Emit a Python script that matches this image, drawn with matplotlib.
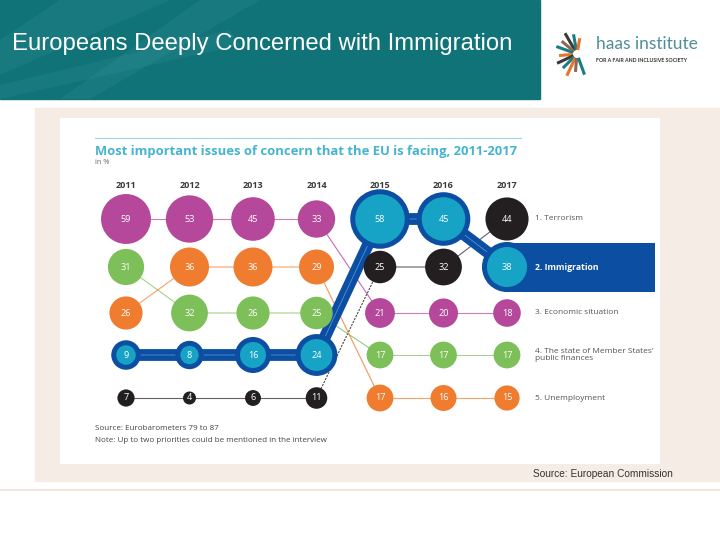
import numpy as np
import matplotlib.pyplot as plt
from matplotlib.patches import Rectangle, Polygon

years = ['2011', '2012', '2013', '2014', '2015', '2016', '2017']
issues = ['1. Terrorism', '2. Immigration', '3. Economic situation',
          "4. The state of Member States'\npublic finances", '5. Unemployment']
terrorism = [7, 4, 6, 11, 25, 32, 44]
immigration = [9, 8, 16, 24, 58, 45, 38]
economic = [59, 53, 45, 33, 21, 20, 18]
public_finances = [31, 32, 26, 25, 17, 17, 17]
unemployment = [26, 36, 36, 29, 17, 16, 15]

values = np.array([terrorism, immigration, economic, public_finances, unemployment])
colors = ['#231f20', '#17a3c6', '#b5489a', '#7dbf58', '#f07c30']
band_color = '#0b4ea2'

# rank of each issue in each year (1 = most mentioned)
ranks = np.zeros_like(values)
for j in range(values.shape[1]):
    order = np.argsort(-values[:, j], kind='stable')
    ranks[order, j] = np.arange(1, len(order) + 1)

# vertical position of each rank row (layout, in pixels from the top)
row_y = np.array([219, 267, 313, 355, 398])
rank_pos = row_y[ranks - 1]

plt.rcParams['font.family'] = ['Open Sans', 'DejaVu Sans']
fig = plt.figure(figsize=(7.2, 5.4), dpi=100)

# slide decoration, in pixel units
bg = fig.add_axes([0, 0, 1, 1])
bg.set_xlim(0, 720)
bg.set_ylim(540, 0)
bg.axis('off')
bg.add_patch(Rectangle((0, 0), 540, 99, color='#0f7378', zorder=0))
for pts in [[(60, 0), (170, 0), (0, 75), (0, 40)],
            [(0, 85), (230, 30), (240, 45), (0, 99)],
            [(200, 0), (260, 0), (90, 99), (60, 99)]]:
    bg.add_patch(Polygon(pts, color='#2f8d91', alpha=0.3, lw=0, zorder=0.5))
bg.text(12, 44, 'Europeans Deeply Concerned with Immigration', color='white',
        fontsize=17.2, family='Liberation Sans', va='center', ha='left')

# logo
cx, cy = 577, 54
for ang, ln, col in [(120, 24, '#3a3a3a'), (140, 20, '#8a6a55'), (160, 22, '#1b7d84'),
                     (185, 18, '#e8732c'), (205, 22, '#3a3a3a'), (225, 20, '#1b7d84'),
                     (245, 24, '#e8732c'), (265, 18, '#8a6a55'), (290, 22, '#1b7d84'),
                     (100, 20, '#1b7d84'), (80, 16, '#e8732c')]:
    a = np.deg2rad(ang)
    bg.plot([cx + 4 * np.cos(a), cx + ln * np.cos(a)],
            [cy - 4 * np.sin(a), cy - ln * np.sin(a)], color=col, lw=2.2,
            solid_capstyle='butt')
bg.text(596, 52, 'haas institute', color='#4f8f99', fontsize=12.5, va='bottom',
        ha='left', family='Lato')
bg.text(596, 61, 'FOR A FAIR AND INCLUSIVE SOCIETY', color='#333333', fontsize=3.8,
        va='center', ha='left', weight='bold', family='Lato')

bg.add_patch(Rectangle((35, 108), 685, 373, color='#f6ece6', zorder=0))
bg.plot([0, 720], [490, 490], color='#f1e2da', lw=1.2)
bg.text(533, 474, 'Source: European Commission', fontsize=7.3, color='#333333',
        family='Liberation Sans', va='center', ha='left')

# chart panel: x in year index, y in pixels from the top of the slide
ax = fig.add_axes([60 / 720, 1 - 464 / 540, 600 / 720, 346 / 540])
ax.set_facecolor('white')
ax.set_xlim((60 - 126) / 63.5, (660 - 126) / 63.5)
ax.set_ylim(464, 118)
ax.set_xticks([])
ax.set_yticks([])
for s in ax.spines.values():
    s.set_visible(False)

left = (95 - 126) / 63.5
ax.plot([left, (521 - 126) / 63.5], [138, 138], color='#9fd6e4', lw=0.8)
ax.text(left, 151, 'Most important issues of concern that the EU is facing, 2011-2017',
        color='#45b4cf', weight='bold', fontsize=9.4, va='center', ha='left')
ax.text(left, 162, 'in %', color='#666666', fontsize=5.3, va='center', ha='left')

x = np.arange(len(years))
for j, yr in enumerate(years):
    ax.text(j, 186, yr, color='#3a3a3a', weight='bold', fontsize=6.5,
            ha='center', va='center')

r_px = 3.25 * np.sqrt(values)
sizes = (1.44 * r_px) ** 2

imm = 1
for i in range(len(issues)):
    if i == imm:
        continue
    ax.plot(x[:4], rank_pos[i, :4], color=colors[i], lw=0.8, alpha=0.7, zorder=1)
    ax.plot(x[4:], rank_pos[i, 4:], color=colors[i], lw=0.8, alpha=0.7, zorder=1)
    ax.plot(x[3:5], rank_pos[i, 3:5], color=colors[i], lw=0.8, alpha=0.8, zorder=1,
            ls=(0, (2, 1)) if i == 0 else '-')

# immigration band
ax.plot(x, rank_pos[imm], color=band_color, lw=8.5, solid_joinstyle='round',
        solid_capstyle='round', zorder=2)
ax.plot(x, rank_pos[imm], color='#4f93dc', lw=0.6, zorder=2.1)
ax.add_patch(Rectangle((6, 243), (655 - 126) / 63.5 - 6, 49,
                       color=band_color, lw=0, zorder=2))
ax.scatter(x, rank_pos[imm], s=(1.44 * (r_px[imm] + 5)) ** 2, color=band_color,
           lw=0, zorder=3)

for i in range(len(issues)):
    ax.scatter(x, rank_pos[i], s=sizes[i], color=colors[i], lw=0, zorder=4)
    for j in range(len(years)):
        ax.text(j, rank_pos[i, j], str(values[i, j]), color='white', fontsize=6.6,
                ha='center', va='center', zorder=5)

lab_x = (535 - 126) / 63.5
for i, lab in enumerate(issues):
    if i == imm:
        ax.text(lab_x, row_y[i], lab, color='white', weight='bold', fontsize=6.2,
                ha='left', va='center', zorder=5)
    else:
        ax.text(lab_x, row_y[i], lab, color='#555555', fontsize=6.0, ha='left',
                va='center', linespacing=1.1, zorder=5)

ax.text(left, 428, 'Source: Eurobarometers 79 to 87',
        color='#444444', fontsize=5.8, ha='left', va='center')
ax.text(left, 441, 'Note: Up to two priorities could be mentioned in the interview',
        color='#444444', fontsize=5.8, ha='left', va='center')

fig.savefig('out.png', dpi=100)
